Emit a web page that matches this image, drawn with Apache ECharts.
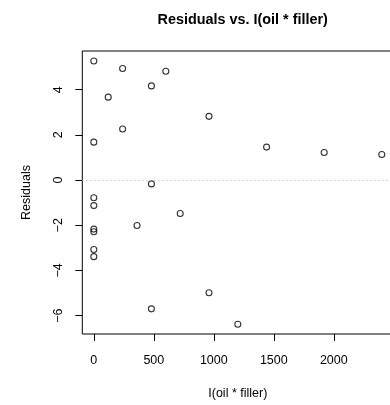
<!DOCTYPE html>
<html>
<head>
<meta charset="utf-8">
<script src="https://cdn.jsdelivr.net/npm/echarts@6/dist/echarts.min.js"></script>
<style>
  html, body { margin: 0; padding: 0; background: #fff; }
  #chart { width: 390px; height: 405px; }
</style>
</head>
<body>
<div id="chart"></div>
<script>
// I(oil * filler) values and the residuals
const oilFiller = [0, 0, 0, 0, 0, 0, 0, 0, 120, 240, 240, 360, 480, 480, 480, 600, 720, 960, 960, 1200, 1440, 1920, 2400];
const residuals = [5.27, 1.68, -0.78, -1.13, -2.17, -2.29, -3.07, -3.39, 3.67, 4.94, 2.26, -2.01, 4.17, -0.17, -5.70, 4.82, -1.48, 2.82, -4.99, -6.38, 1.46, 1.22, 1.13];

const xTicks = [0, 500, 1000, 1500, 2000];
const yTicks = [-6, -4, -2, 0, 2, 4];

let points = oilFiller.map((x, i) => [x, residuals[i]]);

const font = 'Liberation Sans, Arial, Helvetica, sans-serif';

let option = {
    animation: false,
    title: {
        text: 'Residuals vs. I(oil * filler)',
        left: 237.7,
        top: 8,
        textAlign: 'center',
        textStyle: { fontFamily: font, fontSize: 14.4, fontWeight: 'bold', color: '#000' }
    },
    grid: {
        left: 82.3,
        top: 51,
        width: 311,
        height: 283,
        show: true,
        borderColor: '#000',
        borderWidth: 1,
        containLabel: false,
        outerBoundsMode: 'none'
    },
    xAxis: {
        type: 'value',
        min: -96,
        max: 2496,
        name: 'I(oil * filler)',
        nameLocation: 'middle',
        nameGap: 53,
        nameTextStyle: { fontFamily: font, fontSize: 12.5, color: '#000' },
        axisLine: { show: false, onZero: false },
        axisTick: { show: true, length: 7, customValues: xTicks, lineStyle: { color: '#000' } },
        axisLabel: {
            customValues: xTicks,
            margin: 20,
            fontFamily: font,
            fontSize: 12.5,
            color: '#000',
            formatter: v => String(v)
        },
        splitLine: { show: false }
    },
    yAxis: {
        type: 'value',
        min: -6.814,
        max: 5.714,
        name: 'Residuals',
        nameLocation: 'middle',
        nameGap: 49,
        nameTextStyle: { fontFamily: font, fontSize: 12.5, color: '#000' },
        axisLine: { show: false, onZero: false },
        axisTick: { show: true, length: 7, customValues: yTicks, lineStyle: { color: '#000' } },
        axisLabel: {
            customValues: yTicks,
            rotate: 90,
            margin: 17,
            fontFamily: font,
            fontSize: 12.5,
            color: '#000',
            formatter: v => String(v).replace('-', '\u2212')
        },
        splitLine: { show: false }
    },
    series: [
        {
            type: 'scatter',
            data: points,
            symbol: 'circle',
            symbolSize: 6,
            itemStyle: { color: 'rgba(0,0,0,0)', borderColor: '#000', borderWidth: 1.1 },
            silent: true,
            markLine: {
                silent: true,
                symbol: 'none',
                label: { show: false },
                lineStyle: { color: '#aaa', type: [1, 3], width: 1 },
                data: [{ yAxis: 0 }]
            }
        }
    ]
};

let chart = echarts.init(document.getElementById('chart'));
chart.setOption(option);
</script>
</body>
</html>
